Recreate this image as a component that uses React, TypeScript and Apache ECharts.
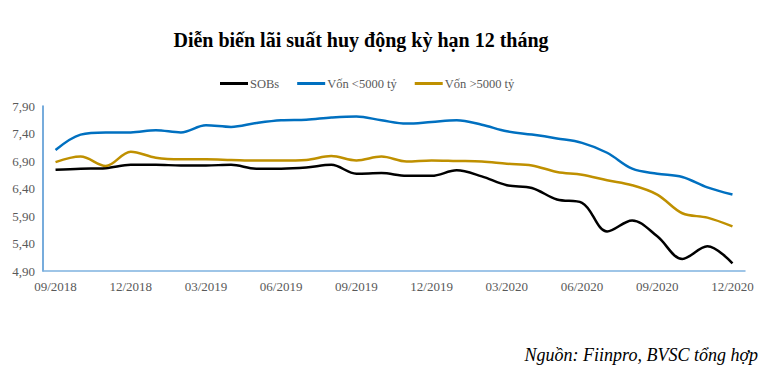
import React, { useEffect, useRef } from "react";
import * as echarts from "echarts";

const categories = [
  "09/2018", "10/2018", "11/2018", "12/2018", "01/2019", "02/2019", "03/2019",
  "04/2019", "05/2019", "06/2019", "07/2019", "08/2019", "09/2019", "10/2019",
  "11/2019", "12/2019", "01/2020", "02/2020", "03/2020", "04/2020", "05/2020",
  "06/2020", "07/2020", "08/2020", "09/2020", "10/2020", "11/2020", "12/2020",
];

const sobs = [
  6.74, 6.76, 6.77, 6.83, 6.83, 6.82, 6.82, 6.83, 6.76, 6.76, 6.78, 6.83, 6.67, 6.68,
  6.63, 6.63, 6.73, 6.62, 6.46, 6.41, 6.2, 6.14, 5.62, 5.82, 5.53, 5.12, 5.35, 5.04,
];

const vonDuoi5000 = [
  7.1, 7.38, 7.42, 7.42, 7.46, 7.42, 7.55, 7.52, 7.59, 7.64, 7.65, 7.69, 7.71, 7.64,
  7.58, 7.61, 7.64, 7.56, 7.44, 7.38, 7.31, 7.23, 7.05, 6.76, 6.67, 6.61, 6.42, 6.29,
];

const vonTren5000 = [
  6.88, 6.98, 6.81, 7.07, 6.96, 6.93, 6.93, 6.92, 6.91, 6.91, 6.92, 6.99, 6.91, 6.98,
  6.89, 6.91, 6.9, 6.89, 6.85, 6.82, 6.7, 6.65, 6.55, 6.46, 6.29, 5.95, 5.87, 5.71,
];

const seriesNames = ["SOBs", "Vốn <5000 tỷ", "Vốn >5000 tỷ"];

export default function App() {
  const ref = useRef<HTMLDivElement>(null);

  useEffect(() => {
    if (!ref.current) return;
    const chart = echarts.init(ref.current, null, { renderer: "svg" });
    const serif = "'Liberation Serif', 'Times New Roman', serif";
    const mk = (name: string, data: number[], color: string) => ({
      name,
      type: "line",
      data,
      smooth: 0.35,
      symbol: "none",
      lineStyle: { color, width: 2.5 },
      itemStyle: { color },
    });
    chart.setOption({
      animation: false,
      backgroundColor: "#ffffff",
      title: [
        {
          text: "Diễn biến lãi suất huy động kỳ hạn 12 tháng",
          left: 356,
          top: 25,
          textAlign: "center",
          textStyle: { fontFamily: serif, fontSize: 20, fontWeight: "bold", color: "#000" },
        },
        {
          text: "Nguồn: Fiinpro, BVSC tổng hợp",
          right: 11,
          top: 341,
          textStyle: { fontFamily: serif, fontSize: 18, fontStyle: "italic", fontWeight: "normal", color: "#000" },
        },
      ],
      legend: {
        data: seriesNames,
        top: 72,
        left: 215,
        icon: "rect",
        itemWidth: 28,
        itemHeight: 3,
        itemGap: 18,
        textStyle: { fontFamily: serif, fontSize: 12.5, color: "#595959", padding: [0, 0, 0, -3] },
      },
      grid: { left: 43, right: 29, top: 106, bottom: 107 },
      xAxis: {
        type: "category",
        data: categories,
        boundaryGap: true,
        axisLine: { lineStyle: { color: "#7FB2E0", width: 1.5 } },
        axisTick: { show: false },
        axisLabel: {
          interval: 2,
          fontFamily: serif,
          fontSize: 13,
          color: "#595959",
          margin: 9,
        },
      },
      yAxis: {
        type: "value",
        min: 4.9,
        max: 7.9,
        interval: 0.1,
        splitLine: { show: false },
        axisTick: { show: false },
        axisLine: { show: true, lineStyle: { color: "#4A90D0", width: 1.5 } },
        axisLabel: {
          fontFamily: serif,
          fontSize: 13,
          color: "#595959",
          margin: 8,
          formatter: (v: number) => {
            const k = Math.round(v * 10);
            return k % 5 === 4 ? (k / 10).toFixed(2).replace(".", ",") : "";
          },
        },
      },
      series: [
        mk(seriesNames[0], sobs, "#000000"),
        mk(seriesNames[1], vonDuoi5000, "#0070C0"),
        mk(seriesNames[2], vonTren5000, "#BF9000"),
      ],
    });
    return () => chart.dispose();
  }, []);

  return <div ref={ref} style={{ width: 774, height: 378, margin: -8 }} />;
}
